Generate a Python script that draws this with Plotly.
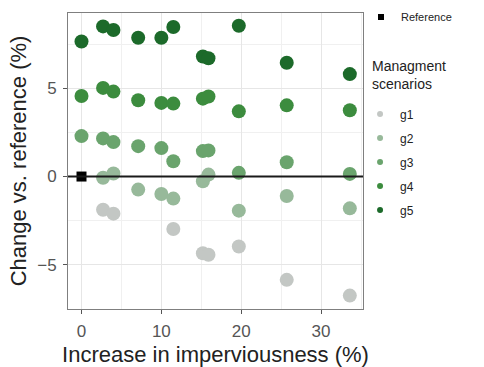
import plotly.graph_objects as go

imperviousness = [0, 2.7, 4.0, 7.1, 10.0, 11.5, 15.2, 15.9, 19.7, 25.7, 33.6]
g1 = [None, -1.88, -2.1, None, None, -2.97, -4.34, -4.43, -3.96, -5.85, -6.74]
g2 = [None, -0.07, 0.17, -0.74, -0.99, -1.25, -0.27, 0.11, -1.93, -1.1, -1.8]
g3 = [2.29, 2.16, 1.95, 1.72, 1.61, 0.87, 1.44, 1.48, 0.21, 0.81, 0.15]
g4 = [4.56, 5.02, 4.81, 4.32, 4.17, 4.13, 4.41, 4.53, 3.69, 4.03, 3.75]
g5 = [7.65, 8.5, 8.3, 7.86, 7.86, 8.47, 6.8, 6.7, 8.54, 6.44, 5.8]
ref_x = [0]
ref_y = [0]

series = [("g1", g1, "#c3c7c4"), ("g2", g2, "#97b99a"),
          ("g3", g3, "#6aa46d"), ("g4", g4, "#3c8c3e"), ("g5", g5, "#1c6a2a")]

FONT = "Liberation Sans, Arial, sans-serif"
PW, PH, ML, MT = 295, 296, 68, 13


def px(x):
    return (x - ML) / PW


def py(y):
    return (MT + PH - y) / PH


fig = go.Figure()
for name, vals, col in series:
    fig.add_trace(go.Scatter(x=imperviousness, y=vals, mode="markers", name=name,
                             marker=dict(size=14, color=col), showlegend=False))
# legend entries (small markers)
for name, vals, col in series:
    fig.add_trace(go.Scatter(x=[None], y=[None], mode="markers", name=name,
                             marker=dict(size=6, color=col), legend="legend2",
                             legendgroup=name, showlegend=True))

fig.add_hline(y=0, line=dict(color="#1a1a1a", width=2), layer="above")

fig.add_trace(go.Scatter(x=ref_x, y=ref_y, mode="markers", name="Reference",
                         marker=dict(size=10, color="black", symbol="square"),
                         showlegend=False))

# "Reference" legend key
fig.add_shape(type="rect", xref="paper", yref="paper",
              x0=px(378), x1=px(384), y0=py(20), y1=py(14),
              fillcolor="black", line=dict(width=0))
fig.add_annotation(text="Reference", xref="paper", yref="paper",
                   x=px(399), y=py(17), xanchor="left", yanchor="middle",
                   showarrow=False, font=dict(family=FONT, size=11, color="#222222"))

axis_common = dict(showline=True, linecolor="#7f7f7f", linewidth=1, mirror=True,
                   gridcolor="#e6e6e6", gridwidth=1, zeroline=False,
                   ticks="outside", ticklen=4, tickcolor="#555555", automargin=False,
                   ticklabelstandoff=3,
                   tickfont=dict(family=FONT, size=17, color="#555555"))

fig.update_xaxes(range=[-1.69, 35.25], tickvals=[0, 10, 20, 30],
                 minor=dict(tickvals=[5, 15, 25, 35], showgrid=True, gridcolor="#f0f0f0", gridwidth=0.6),
                 title=dict(text="Increase in imperviousness (%)", standoff=6,
                            font=dict(family=FONT, size=22, color="#222222")),
                 **axis_common)
fig.update_yaxes(range=[-7.5, 9.26], tickvals=[-5, 0, 5],
                 minor=dict(tickvals=[-7.5, -2.5, 2.5, 7.5], showgrid=True, gridcolor="#f0f0f0", gridwidth=0.6),
                 title=dict(text="Change vs. reference (%)", standoff=4,
                            font=dict(family=FONT, size=22, color="#222222")),
                 **axis_common)

fig.add_annotation(text="Managment<br>scenarios", xref="paper", yref="paper",
                   x=px(370), y=py(75), xanchor="left", yanchor="middle",
                   align="left", showarrow=False,
                   font=dict(family=FONT, size=14, color="#222222"))

fig.update_layout(
    width=484, height=367,
    margin=dict(l=ML, r=484 - ML - PW, t=MT, b=367 - MT - PH),
    plot_bgcolor="white", paper_bgcolor="white",
    font=dict(family=FONT, color="#222222"),
    legend2=dict(x=0.99, y=0.708, xanchor="left", yanchor="top",
                 font=dict(size=12), traceorder="grouped", tracegroupgap=5,
                 itemwidth=30, bgcolor="rgba(0,0,0,0)"),
)

fig.write_html("out.html", post_script="document.body.style.margin='0';",
               config={"displayModeBar": False})
